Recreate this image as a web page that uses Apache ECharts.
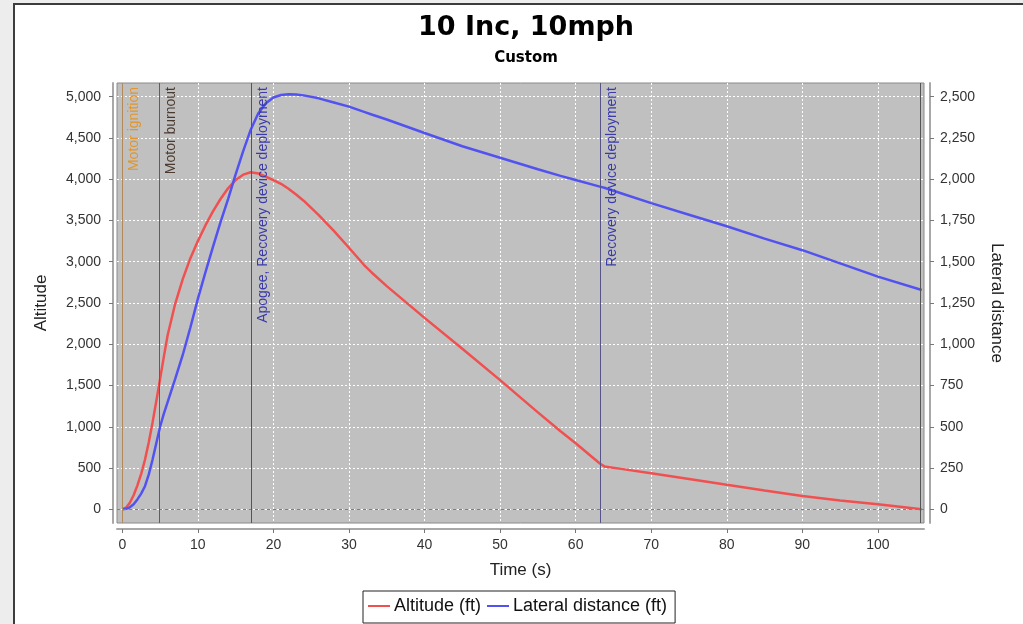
<!DOCTYPE html>
<html>
<head>
<meta charset="utf-8">
<script src="https://cdn.jsdelivr.net/npm/echarts@6/dist/echarts.min.js"></script>
<style>
  html, body { margin: 0; padding: 0; overflow: hidden; background: #ededed; }
  #frame { position: absolute; left: 13px; top: 3px; width: 1100px; height: 700px; border: 2px solid #3c3c3c; background: #fff; }
  #chart { position: absolute; left: 0; top: 0; width: 1023px; height: 624px; }
</style>
</head>
<body>
<div id="frame"></div>
<div id="chart"></div>
<script>
// flight data
const time = [0, 0.5, 1, 1.5, 2, 2.5, 3, 3.5, 4, 4.5, 5, 5.5, 6, 7, 8, 9, 10, 11, 12, 13, 14, 15, 16, 17, 18, 19, 20, 21, 22, 23, 24, 26, 28, 30, 32, 33, 35, 40, 45, 50, 55, 58, 60, 63.2, 63.8, 66, 70, 75, 80, 85, 90, 95, 100, 105.8];
const altitude = [0, 20, 80, 170, 290, 430, 600, 810, 1050, 1310, 1580, 1850, 2110, 2490, 2790, 3040, 3250, 3440, 3610, 3760, 3890, 3990, 4055, 4085, 4070, 4030, 3990, 3945, 3885, 3815, 3740, 3565, 3375, 3170, 2960, 2870, 2705, 2320, 1945, 1565, 1175, 945, 800, 555, 520, 490, 436, 368, 298, 228, 160, 108, 62, 0];
const lateral = [0, 3, 12, 30, 60, 95, 140, 210, 300, 400, 500, 580, 650, 790, 935, 1100, 1275, 1435, 1590, 1740, 1880, 2030, 2170, 2300, 2400, 2460, 2495, 2510, 2515, 2514, 2508, 2490, 2465, 2440, 2408, 2392, 2362, 2280, 2200, 2130, 2060, 2020, 1995, 1955, 1948, 1915, 1855, 1785, 1715, 1640, 1570, 1490, 1410, 1329];

const eventTimes = [0, 4.9, 17.1, 63.2, 105.6];
const eventNames = ["Motor ignition", "Motor burnout", "Apogee, Recovery device deployment", "Recovery device deployment", ""];

const timeTicks = [0, 10, 20, 30, 40, 50, 60, 70, 80, 90, 100];
const altTicks = [0, 500, 1000, 1500, 2000, 2500, 3000, 3500, 4000, 4500, 5000];
const latTicks = [0, 250, 500, 750, 1000, 1250, 1500, 1750, 2000, 2250, 2500];

// styles
const eventLineColor = ["#b08a5a", "#6a5a50", "#50507a", "#55558a", "#555555"];
const eventTextColor = ["#e0952e", "#4a3a30", "#3a3aa8", "#3a3aa8", "#333333"];
const fontFamily = "'Liberation Sans', Arial, sans-serif";

const chart = echarts.init(document.getElementById("chart"));

const fmt = (v) => Number(v).toLocaleString("en-US");

const eventLines = eventTimes.map((t, i) => ({
  xAxis: t,
  lineStyle: { color: eventLineColor[i], width: 1, type: "solid" },
  label: {
    show: eventNames[i] !== "",
    formatter: eventNames[i],
    position: "insideEndBottom",
    distance: [4, 5],
    color: eventTextColor[i],
    fontSize: 14,
    fontFamily: fontFamily,
  },
}));

const option = {
  animation: false,
  title: {
    text: "10 Inc, 10mph",
    subtext: "Custom",
    left: 521,
    textAlign: "center",
    top: 9,
    itemGap: 10,
    textStyle: { fontSize: 27, fontWeight: "bold", color: "#000", fontFamily: "'DejaVu Sans', sans-serif" },
    subtextStyle: { fontSize: 15, fontWeight: "bold", color: "#000", fontFamily: "'DejaVu Sans', sans-serif" },
  },
  legend: {
    data: ["Altitude (ft)", "Lateral distance (ft)"],
    left: 363,
    top: 591,
    orient: "horizontal",
    borderColor: "#222",
    borderWidth: 1,
    padding: [6, 8, 8, 5],
    itemGap: 6,
    itemWidth: 22,
    itemHeight: 2,
    icon: "rect",
    textStyle: { fontSize: 18, color: "#111", fontFamily: fontFamily, padding: [0, 0, 0, -1] },
  },
  grid: {
    left: 117,
    right: 99,
    top: 83,
    bottom: 101,
    show: true,
    backgroundColor: "#c0c0c0",
    borderColor: "#8a8a8a",
    borderWidth: 1,
  },
  xAxis: {
    type: "value",
    min: -0.7,
    max: 106.1,
    offset: 6,
    name: "Time (s)",
    nameLocation: "middle",
    nameGap: 33,
    nameTextStyle: { fontSize: 17, color: "#222", fontFamily: fontFamily },
    axisLine: { show: true, onZero: false, lineStyle: { color: "#a8a8a8", width: 2 } },
    axisTick: { show: true, length: 4, customValues: timeTicks, lineStyle: { color: "#777" } },
    axisLabel: { customValues: timeTicks, fontSize: 14, color: "#333", fontFamily: fontFamily, margin: 9 },
    splitLine: { show: true, lineStyle: { color: "#ffffff", type: [2, 2], width: 1 } },
  },
  yAxis: [
    {
      type: "value",
      min: -166,
      max: 5166,
      offset: 4,
      position: "left",
      name: "Altitude",
      nameLocation: "middle",
      nameGap: 63,
      nameTextStyle: { fontSize: 17, color: "#222", fontFamily: fontFamily },
      axisLine: { show: true, onZero: false, lineStyle: { color: "#a8a8a8", width: 2 } },
      axisTick: { show: true, length: 4, customValues: altTicks, lineStyle: { color: "#777" } },
      axisLabel: { customValues: altTicks, formatter: fmt, fontSize: 14, color: "#333", fontFamily: fontFamily, margin: 12 },
      splitLine: { show: true, lineStyle: { color: "#ffffff", type: [2, 2], width: 1 } },
    },
    {
      type: "value",
      min: -83,
      max: 2583,
      offset: 6,
      position: "right",
      name: "Lateral distance",
      nameLocation: "middle",
      nameGap: 58,
      nameRotate: -90,
      nameTextStyle: { fontSize: 17, color: "#222", fontFamily: fontFamily },
      axisLine: { show: true, onZero: false, lineStyle: { color: "#a8a8a8", width: 2 } },
      axisTick: { show: true, length: 4, customValues: latTicks, lineStyle: { color: "#777" } },
      axisLabel: { customValues: latTicks, formatter: fmt, fontSize: 14, color: "#333", fontFamily: fontFamily, margin: 10 },
      splitLine: { show: false },
    },
  ],
  series: [
    {
      name: "Altitude (ft)",
      type: "line",
      yAxisIndex: 0,
      data: time.map((t, i) => [t, altitude[i]]),
      showSymbol: false,
      smooth: false,
      lineStyle: { color: "#f05050", width: 2.5 },
      itemStyle: { color: "#f05050" },
      z: 3,
      markLine: {
        silent: true,
        symbol: "none",
        animation: false,
        data: [
          { yAxis: 0, lineStyle: { color: "#808080", type: [3, 3], width: 1 }, label: { show: false } },
          ...eventLines,
        ],
      },
    },
    {
      name: "Lateral distance (ft)",
      type: "line",
      yAxisIndex: 1,
      data: time.map((t, i) => [t, lateral[i]]),
      showSymbol: false,
      smooth: false,
      lineStyle: { color: "#5252f0", width: 2.5 },
      itemStyle: { color: "#5252f0" },
      z: 4,
    },
  ],
};

chart.setOption(option);
</script>
</body>
</html>
